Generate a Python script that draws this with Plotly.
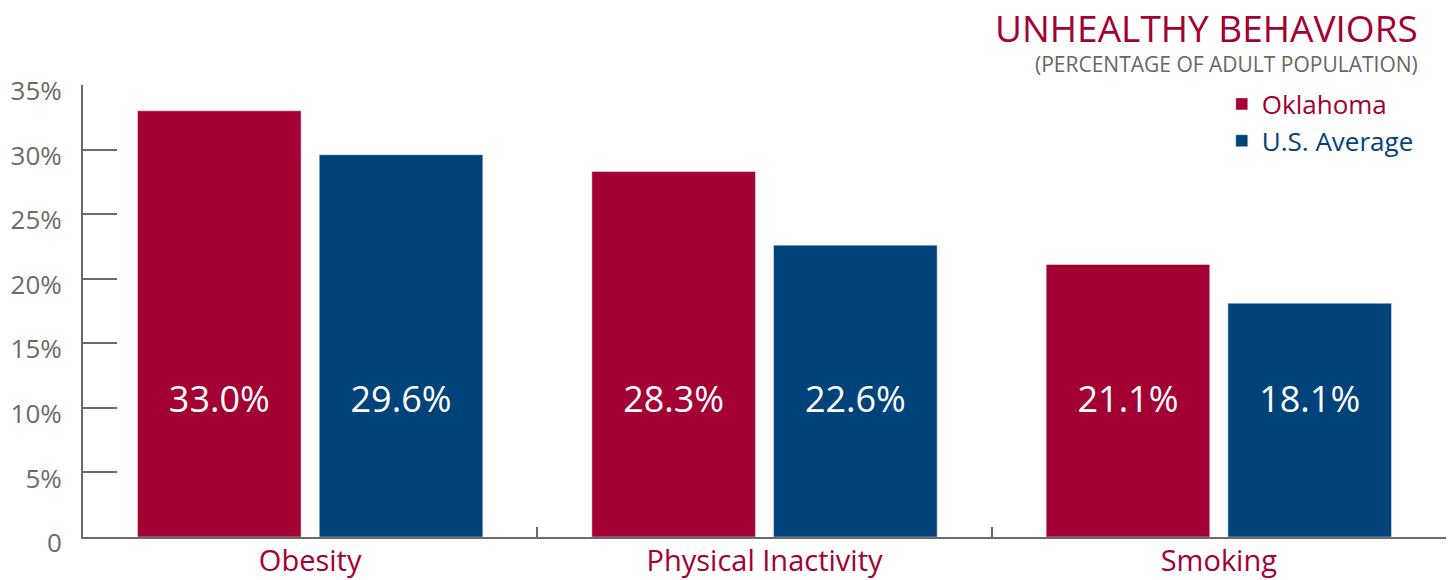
import plotly.graph_objects as go

# Data
categories = ["Obesity", "Physical Inactivity", "Smoking"]
oklahoma = [33.0, 28.3, 21.1]
us_average = [29.6, 22.6, 18.1]
y_tickvals = [0, 5, 10, 15, 20, 25, 30, 35]
y_ticktext = ["0", "5%", "10%", "15%", "20%", "25%", "30%", "35%"]

RED = "#A30034"
BLUE = "#00427A"
GREY = "#6B6B6B"
FONT = "Open Sans"

BARGAP = 0.2
GROUPGAP = 0.1
LABEL_Y = 10.4  # height at which the value labels sit inside the bars

fig = go.Figure()
fig.add_trace(go.Bar(
    x=categories, y=oklahoma, marker_color=RED,
    name=f"<span style='color:{RED}'>Oklahoma</span>",
    offsetgroup="ok", hoverinfo="skip",
))
fig.add_trace(go.Bar(
    x=categories, y=us_average, marker_color=BLUE,
    name=f"<span style='color:{BLUE}'>U.S. Average</span>",
    offsetgroup="us", hoverinfo="skip",
))

# Value labels, grouped the same way as the bars
for vals, grp in ((oklahoma, "ok"), (us_average, "us")):
    fig.add_trace(go.Scatter(
        x=categories, y=[LABEL_Y] * len(vals), mode="text",
        text=[f"{v:.1f}%" for v in vals],
        textfont=dict(family=FONT, size=36, color="white"),
        textposition="middle center",
        offsetgroup=grp, showlegend=False, hoverinfo="skip",
    ))

fig.update_layout(
    width=1454, height=580,
    margin=dict(l=83, r=8, t=85, b=43, autoexpand=False),
    paper_bgcolor="white", plot_bgcolor="white",
    barmode="group", bargap=BARGAP, bargroupgap=GROUPGAP,
    scattermode="group", scattergap=BARGAP,
    font=dict(family=FONT),
    showlegend=True,
    legend=dict(
        x=0.8355, y=1.01, xanchor="left", yanchor="top",
        font=dict(family=FONT, size=26),
        bgcolor="rgba(0,0,0,0)", itemwidth=30, tracegroupgap=0,
    ),
    xaxis=dict(
        type="category", automargin=False,
        showline=True, linecolor=GREY, linewidth=2,
        ticks="inside", tickson="boundaries", ticklen=10, tickwidth=2, tickcolor=GREY,
        tickfont=dict(family=FONT, size=29, color=RED),
        ticklabelstandoff=-3,
        showgrid=False, zeroline=False,
    ),
    yaxis=dict(
        range=[0, 35], automargin=False,
        tickvals=y_tickvals, ticktext=y_ticktext,
        showline=True, linecolor=GREY, linewidth=2,
        ticks="inside", ticklen=34, tickwidth=2, tickcolor=GREY,
        tickfont=dict(family=FONT, size=26, color=GREY),
        ticklabelstandoff=14, ticklabelshift=6,
        showgrid=False, zeroline=False,
    ),
    annotations=[
        dict(text="UNHEALTHY BEHAVIORS", xref="paper", yref="paper",
             x=0.981, y=1.188, xanchor="right", yanchor="top", showarrow=False,
             font=dict(family=FONT, size=37, color=RED)),
        dict(text="(PERCENTAGE OF ADULT POPULATION)", xref="paper", yref="paper",
             x=0.981, y=1.0454, xanchor="right", yanchor="middle", showarrow=False,
             font=dict(family=FONT, size=21, color="#666666")),
    ],
)

fig.write_html("out.html")
